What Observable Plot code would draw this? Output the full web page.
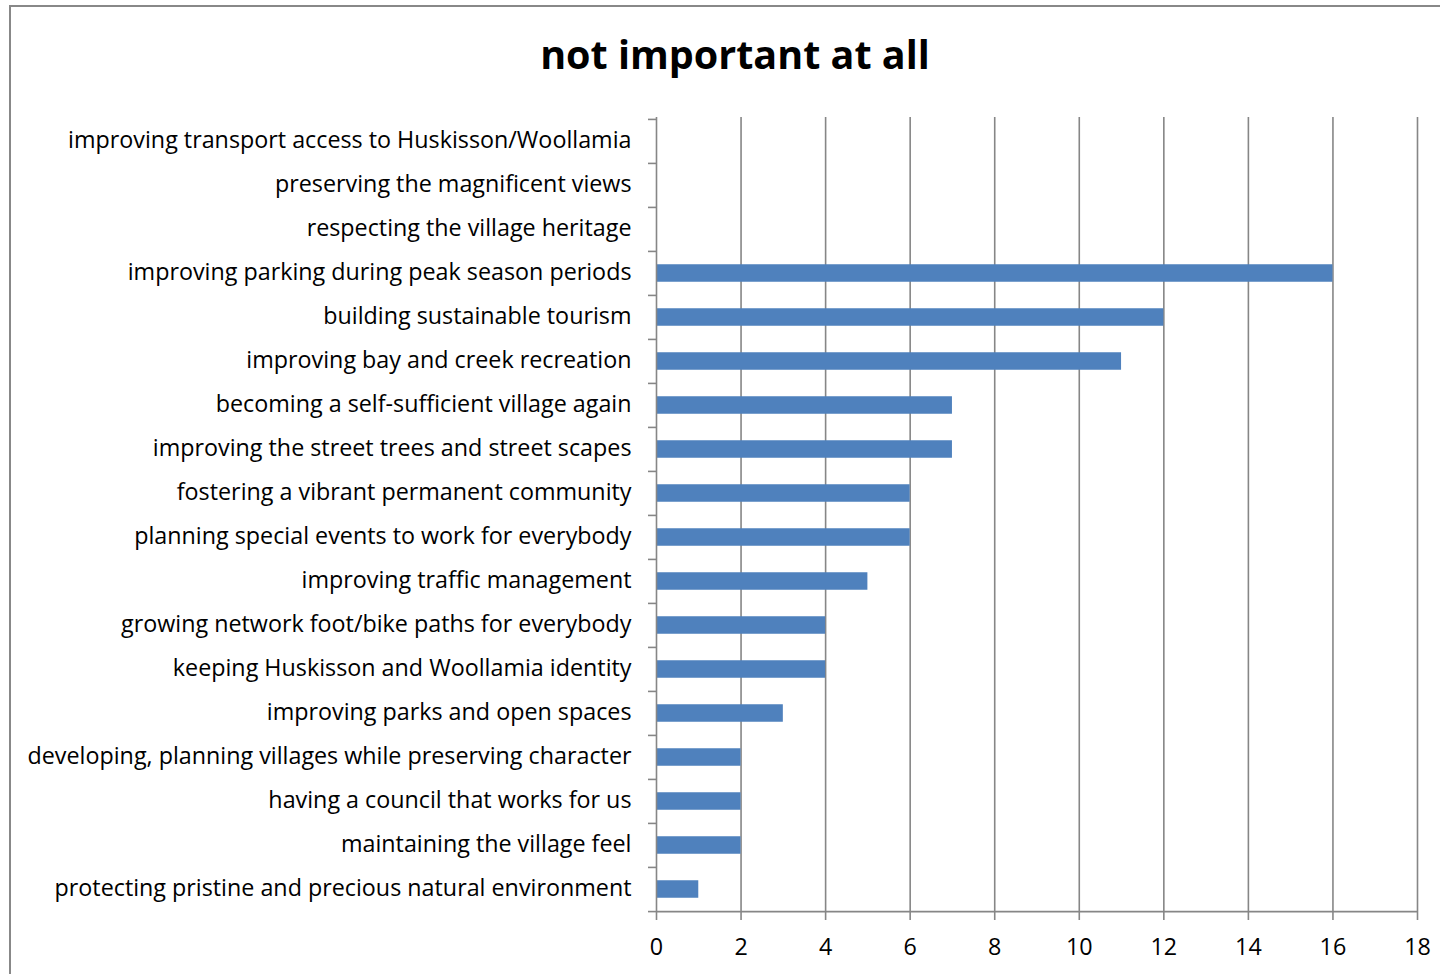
<!DOCTYPE html>
<html>
<head>
<meta charset="utf-8">
<script src="https://cdn.jsdelivr.net/npm/d3@7"></script>
<script src="https://cdn.jsdelivr.net/npm/@observablehq/plot@0.6"></script>
<style>
  html, body { margin: 0; padding: 0; background: #fff; }
  #wrap { position: relative; width: 1440px; height: 974px; overflow: hidden; font-family: "Open Sans", sans-serif; }
  #frame { position: absolute; left: 9px; top: 5px; width: 1500px; height: 1100px; border: 2px solid #888; box-sizing: border-box; }
  #title { position: absolute; left: 0; top: 0; width: 1470px; height: 100px; text-align: center; font-weight: 700; font-size: 39.5px; line-height: 1; padding-top: 35px; box-sizing: border-box; color: #000; }
  #chart { position: absolute; left: 0; top: 100px; }
</style>
</head>
<body>
<div id="wrap">
  <div id="frame"></div>
  <div id="title">not important at all</div>
  <div id="chart"></div>
</div>
<script>
const categories = [
  "improving transport access to Huskisson/Woollamia",
  "preserving the magnificent views",
  "respecting the village heritage",
  "improving parking during peak season periods",
  "building sustainable tourism",
  "improving bay and creek recreation",
  "becoming a self-sufficient village again",
  "improving the street trees and street scapes",
  "fostering a vibrant permanent community",
  "planning special events to work for everybody",
  "improving traffic management",
  "growing network foot/bike paths for everybody",
  "keeping Huskisson and Woollamia identity",
  "improving parks and open spaces",
  "developing, planning villages while preserving character",
  "having a council that works for us",
  "maintaining the village feel",
  "protecting pristine and precious natural environment"
];
const values = [0, 0, 0, 16, 12, 11, 7, 7, 6, 6, 5, 4, 4, 3, 2, 2, 2, 1];
const xTicks = [0, 2, 4, 6, 8, 10, 12, 14, 16, 18];

const data = categories.map((c, i) => ({category: c, value: values[i]}));

const marginTop = 17, marginBottom = 62, height = 874;
const step = (height - marginTop - marginBottom) / categories.length;
const gray = "#868686";
const fs = 23.3;

const plot = Plot.plot({
  width: 1440,
  height,
  marginLeft: 656,
  marginRight: 23,
  marginTop,
  marginBottom,
  style: {fontFamily: "'Open Sans', sans-serif", fontSize: fs + "px", color: "#000", background: "transparent"},
  x: {domain: [0, 18], ticks: xTicks, label: null},
  y: {domain: categories, padding: 0, label: null},
  marks: [
    Plot.gridX(xTicks.slice(1), {stroke: gray, strokeOpacity: 1, strokeWidth: 1.6}),
    Plot.barX(data, {x: "value", y: "category", fill: "#4F81BD", insetTop: step * 0.3, insetBottom: step * 0.3}),
    Plot.ruleX([0], {stroke: gray, strokeWidth: 1.6}),
    Plot.ruleY([categories[categories.length - 1]], {stroke: gray, strokeWidth: 1.6, dy: step / 2}),
    Plot.axisY({tickSize: 0, tickPadding: 25, fill: "#000", fontSize: fs, label: null, dy: -1}),
    Plot.axisY({tickSize: 8, tickFormat: () => "", stroke: gray, strokeWidth: 1.6, dy: -step / 2, label: null}),
    Plot.axisY({ticks: [categories[categories.length - 1]], tickSize: 8, tickFormat: () => "", stroke: gray, strokeWidth: 1.6, dy: step / 2, label: null}),
    Plot.axisX({ticks: xTicks, tickSize: 8, tickPadding: 18, stroke: gray, strokeWidth: 1.6, fill: "#000", fontSize: fs, label: null})
  ]
});
document.getElementById("chart").appendChild(plot);
</script>
</body>
</html>
